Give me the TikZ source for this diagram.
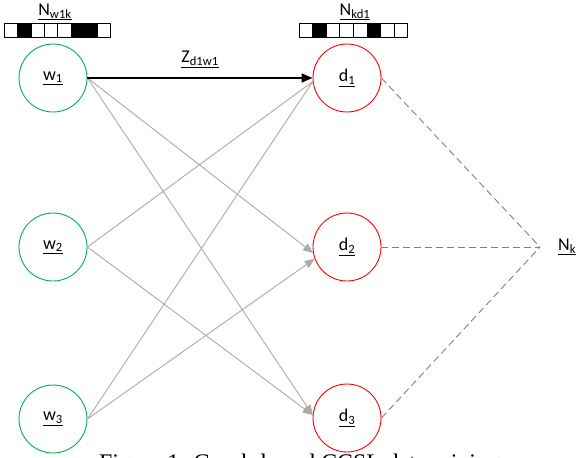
\documentclass[tikz,border=0pt]{standalone}
\usepackage{fontspec}
\setmainfont{Carlito}
\newfontfamily\capfont{Liberation Serif}
\usetikzlibrary{arrows.meta}
\definecolor{wgreen}{RGB}{0,176,80}
\definecolor{dred}{RGB}{255,0,0}
\definecolor{lgray}{RGB}{170,170,170}
\definecolor{dgray}{RGB}{128,128,128}
\newcommand{\lab}[2]{\underline{#1\textsubscript{#2}}}
\tikzset{
  vnode/.style={circle, line width=0.9pt, minimum size=68pt, inner sep=0pt, font=\fontsize{18}{21}\selectfont},
  wnode/.style={vnode, draw=wgreen},
  dnode/.style={vnode, draw=dred},
  lbl/.style={inner sep=0pt, font=\fontsize{18}{21}\selectfont},
  edge/.style={draw=lgray, line width=0.9pt},
  tipedge/.style={edge, -{Triangle[length=10pt,width=8pt]}},
  mainedge/.style={draw=black, line width=1.4pt, -{Triangle[length=11pt,width=9pt]}},
  dashline/.style={draw=dgray, line width=0.9pt, dash pattern=on 7pt off 4pt},
  cell/.style={draw=black, line width=0.9pt, minimum height=14pt, inner sep=0pt}
}
\begin{document}
\begin{tikzpicture}[x=1pt,y=-1pt]
\useasboundingbox (0,0) rectangle (579,458);
% bars
\foreach \c [count=\i from 0] in {white,black,white,white,white,black,black,white}
  \node[cell, fill=\c, minimum width=13.3pt] (a\i) at ({4.5+13.3*(\i+0.5)},30) {};
\foreach \c [count=\i from 0] in {white,black,white,white,white,black,white,white}
  \node[cell, fill=\c, minimum width=13.6pt] (b\i) at ({299+13.6*(\i+0.5)},30) {};
\node[lbl] (nw) at (55,12) {\lab{N}{w1k}};
\node[lbl] (nd) at (355,12) {\lab{N}{kd1}};
% nodes
\node[wnode] (w1) at (53,78) {\lab{w}{1}};
\node[wnode] (w2) at (53,247) {\lab{w}{2}};
\node[wnode] (w3) at (53,419) {\lab{w}{3}};
\node[dnode] (d1) at (347,78) {\lab{d}{1}};
\node[dnode] (d2) at (347,247) {\lab{d}{2}};
\node[dnode] (d3) at (347,418) {\lab{d}{3}};
\coordinate (k) at (540,247);
\node[lbl, anchor=west] (nk) at (558,247) {\lab{N}{k}};
% edges
\draw[tipedge] (w1.east) -- (d2.190);
\draw[tipedge] (w1.east) -- (d3.175);
\draw[edge] (w2.east) -- (d1.186);
\draw[tipedge] (w2.east) -- (d3.175);
\draw[edge] (w3.east) -- (d1.186);
\draw[tipedge] (w3.east) -- (d2.200);
\draw[mainedge] (w1.east) -- node[lbl, above=10pt] (z) {\lab{Z}{d1w1}} (d1.west);
\draw[dashline] (d1.east) -- (k);
\draw[dashline] (d2.east) -- (k);
\draw[dashline] (d3.east) -- (k);
% caption (cut by the lower edge)
\node[anchor=base west, inner sep=0pt, font=\capfont\fontsize{23.8}{28}\selectfont] (cap) at (99,470) {Figure 1: Graph-based CCSL data mining};
\end{tikzpicture}
\end{document}
